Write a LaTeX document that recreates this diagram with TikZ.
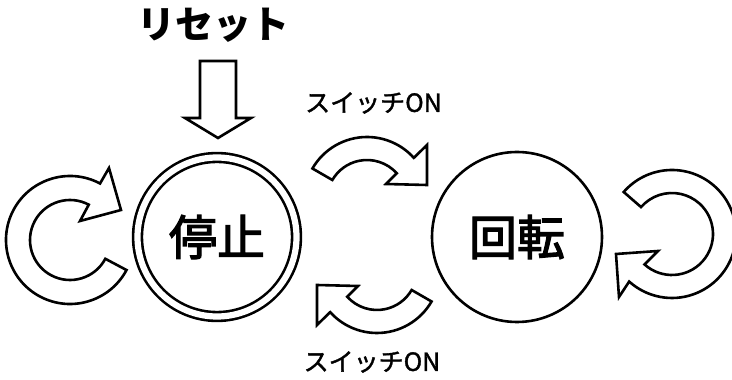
\documentclass[tikz,border=0pt]{standalone}
\usepackage{fontspec}
\newfontfamily\jp{Noto Sans CJK JP}
\newfontfamily\jpm[FakeBold=1.5]{Noto Sans CJK JP}
\newfontfamily\jps[FakeBold=2.5]{Noto Sans CJK JP}
\usetikzlibrary{calc}
\tikzset{
  barrow/.style={draw=black, fill=white, line width=2.6pt, line join=miter},
  statecircle/.style={circle, draw=black, line width=2.6pt, inner sep=0pt, font=\jps\fontsize{48}{48}\selectfont},
  lbl/.style={inner sep=0pt, font=\jpm\fontsize{25}{25}\selectfont},
}
\begin{document}
\begin{tikzpicture}[x=1pt,y=1pt]
\useasboundingbox (0,0) rectangle (732,380);
% state circles
\node[statecircle, minimum size=159pt, double, double distance=6.2pt] (stop) at (217,143) {停止};
\node[statecircle, minimum size=170pt] (run) at (517,143) {回転};
% reset label and arrow
\node[inner sep=0pt, font=\jp\bfseries\fontsize{38}{38}\selectfont] (reset) at (213,355) {リセット};
\draw[barrow] (200,319) -- (236,319) -- (236,262) -- (251,262) -- (218,242) -- (185,262) -- (200,262) -- cycle;
% left loop arrow
\draw[barrow] (70,140) ++(-28:64) arc[start angle=-28,end angle=-298,radius=64]
  -- (109,212) -- (121,170) -- (80,159)
  -- ($(70,140)+(62:40)$) arc[start angle=62,end angle=332,radius=40] -- cycle;
% right loop arrow
\draw[barrow] (672,146) ++(139:64) arc[start angle=139,end angle=-132,radius=64]
  -- (619,83) -- (616,126) -- (658,129)
  -- ($(672,146)+(-132:41)$) arc[start angle=-132,end angle=139,radius=41] -- cycle;
% top middle arrow
\draw[barrow] (367,180) ++(150:63) arc[start angle=150,end angle=42,radius=63]
  -- (427,235) -- (427,195) -- (386,196)
  -- ($(367,180)+(42:40)$) arc[start angle=42,end angle=150,radius=40] -- cycle;
% bottom middle arrow (point reflection of the top one)
\begin{scope}[rotate around={180:(372,145)}]
\draw[barrow] (367,180) ++(150:63) arc[start angle=150,end angle=42,radius=63]
  -- (427,235) -- (427,195) -- (386,196)
  -- ($(367,180)+(42:40)$) arc[start angle=42,end angle=150,radius=40] -- cycle;
\end{scope}
% labels
\node[lbl] (ontop) at (373.5,277) {スイッチON};
\node[lbl] (onbot) at (372,18) {スイッチON};
\end{tikzpicture}
\end{document}
